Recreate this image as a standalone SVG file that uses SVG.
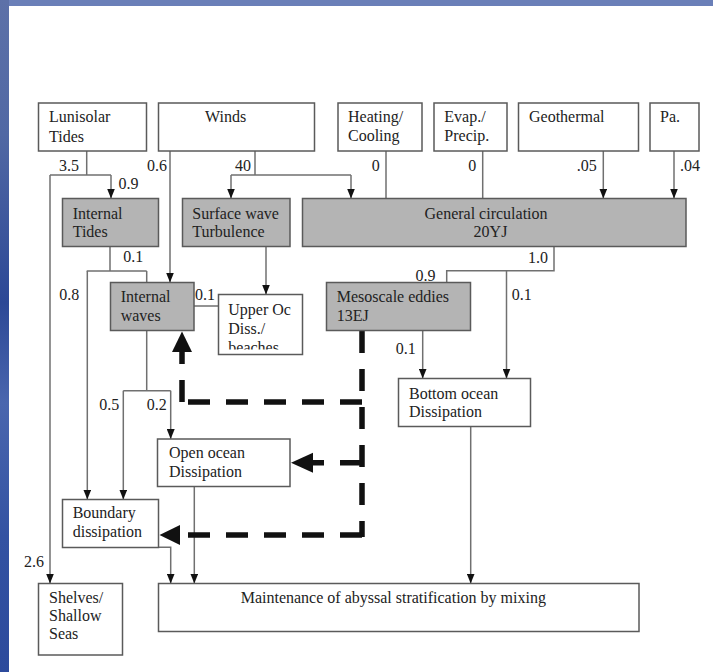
<svg xmlns="http://www.w3.org/2000/svg" width="713" height="672" viewBox="0 0 713 672">
<defs>
<linearGradient id="side" x1="0" y1="0" x2="0" y2="1">
<stop offset="0" stop-color="#5d71a8"/>
<stop offset="0.2" stop-color="#5168a4"/>
<stop offset="0.45" stop-color="#2c4896"/>
<stop offset="0.6" stop-color="#4a66ae"/>
<stop offset="0.8" stop-color="#3352a2"/>
<stop offset="1" stop-color="#2c4a9c"/>
</linearGradient>
<marker id="ah" viewBox="0 0 10 8" markerWidth="10" markerHeight="8" refX="10" refY="4" orient="auto" markerUnits="userSpaceOnUse">
<path d="M0,0 L10,4 L0,8 z" fill="#111"/>
</marker>
<clipPath id="uoclip"><rect x="218" y="294" width="86" height="55.5"/></clipPath>
<style>
.box{fill:#fff;stroke:#5a5a5a;stroke-width:1.5}
.gray{fill:#b4b4b4;stroke:#5a5a5a;stroke-width:1.5}
text{font-family:"Liberation Serif","Times New Roman",serif;font-size:16px;fill:#222}
.ln{fill:none;stroke:#707070;stroke-width:1.5}
.arr{marker-end:url(#ah)}
.dash{fill:none;stroke:#111;stroke-width:5.5;stroke-dasharray:22 16}
.head{fill:#111}
</style>
</defs>
<rect x="0" y="0" width="713" height="672" fill="#fff"/>
<rect x="0" y="0" width="713" height="6" fill="#6a7fb8"/>
<rect x="0" y="0" width="9" height="672" fill="url(#side)"/>

<g id="connectors">
<path class="ln" d="M86.7,151 V175 M50,175 H111 M86.7,271 H146.7 M110,246.5 V271 M146.7,271 V282.5 M255,151 V175 M231,175 H351 M386,151 V198.5 M482.7,151 V198.5 M194,306 H218.5 M554,246.5 V270.7 H446.7 V282.5 M146.7,330.5 V390.7 M123.3,390.7 H170.7"/>
<path class="ln arr" d="M111,175 V198.5"/>
<path class="ln arr" d="M50,175 V583.5"/>
<path class="ln arr" d="M170,151 V282.5"/>
<path class="ln arr" d="M231,175 V198.5"/>
<path class="ln arr" d="M351,175 V198.5"/>
<path class="ln arr" d="M603.3,151 V198.5"/>
<path class="ln arr" d="M674,151 V198.5"/>
<path class="ln arr" d="M87.3,271 V499.5"/>
<path class="ln arr" d="M266,246.5 V294.5"/>
<path class="ln arr" d="M506.5,270.7 V378.5"/>
<path class="ln arr" d="M422.7,330.5 V378.5"/>
<path class="ln arr" d="M170.7,390.7 V439"/>
<path class="ln arr" d="M123.3,390.7 V499.5"/>
<path class="ln arr" d="M470.7,426.5 V583.5"/>
<path class="ln arr" d="M194.3,486.5 V583.5"/>
<path class="ln arr" d="M158.5,547.3 H170.7 V583.5"/>
<path class="dash" d="M362,331 V537"/>
<path class="dash" d="M362,402 H182"/>
<path class="dash" d="M182,402 V350"/>
<path class="dash" d="M362,462.7 H305"/>
<path class="dash" d="M362,535 H180"/>
<polygon class="head" points="182,331.5 172,352 192,352"/>
<polygon class="head" points="291,462.7 313,452.7 313,472.7"/>
<polygon class="head" points="159.5,535 180,525 180,545"/>
<text x="59" y="170.5">3.5</text>
<text x="147" y="170.5">0.6</text>
<text x="235" y="170.5">40</text>
<text x="118.5" y="189">0.9</text>
<text x="371.7" y="170.5">0</text>
<text x="468.3" y="170.5">0</text>
<text x="576.7" y="170.5">.05</text>
<text x="680" y="170.5">.04</text>
<text x="123.3" y="262">0.1</text>
<text x="528" y="263">1.0</text>
<text x="415.5" y="281">0.9</text>
<text x="59.3" y="300">0.8</text>
<text x="195" y="300">0.1</text>
<text x="511.7" y="300">0.1</text>
<text x="395.7" y="354">0.1</text>
<text x="99.3" y="410">0.5</text>
<text x="146.7" y="410">0.2</text>
<text x="24" y="566.7">2.6</text>
</g>

<g id="lunisolar"><rect class="box" x="38.5" y="103" width="108" height="48"/><text x="49" y="122.3">Lunisolar</text><text x="49" y="141.5">Tides</text></g>
<g id="winds"><rect class="box" x="158.5" y="103" width="156" height="48"/><text x="205" y="122.3">Winds</text></g>
<g id="heating"><rect class="box" x="338" y="103" width="84" height="48"/><text x="348" y="122">Heating/</text><text x="348" y="140.5">Cooling</text></g>
<g id="evap"><rect class="box" x="434" y="103" width="73" height="48"/><text x="444.3" y="122">Evap./</text><text x="444.3" y="140.5">Precip.</text></g>
<g id="geothermal"><rect class="box" x="518.5" y="103" width="120" height="48"/><text x="529" y="122">Geothermal</text></g>
<g id="pa"><rect class="box" x="650" y="103" width="49" height="48"/><text x="660" y="122">Pa.</text></g>
<g id="internal-tides"><rect class="gray" x="62.5" y="198.5" width="96" height="48"/><text x="72.7" y="219">Internal</text><text x="72.7" y="237">Tides</text></g>
<g id="surface-wave"><rect class="gray" x="182.5" y="198.5" width="107.5" height="48"/><text x="192.3" y="218.5">Surface wave</text><text x="192.3" y="237">Turbulence</text></g>
<g id="general-circulation"><rect class="gray" x="302.5" y="198.5" width="383.5" height="48"/><text x="486" y="218.5" text-anchor="middle">General circulation</text><text x="490.5" y="237" text-anchor="middle">20YJ</text></g>
<g id="internal-waves"><rect class="gray" x="110.5" y="282.5" width="83.5" height="48"/><text x="120.7" y="302">Internal</text><text x="120.7" y="320.5">waves</text></g>
<g id="upper-ocean"><rect class="box" x="218.5" y="294.5" width="84" height="60"/><g clip-path="url(#uoclip)"><text x="228.3" y="315">Upper Oc</text><text x="228.3" y="333.5">Diss./</text><text x="228.3" y="352.5">beaches</text></g></g>
<g id="mesoscale"><rect class="gray" x="326.5" y="282.5" width="144" height="48"/><text x="336.7" y="302">Mesoscale eddies</text><text x="336.7" y="320.5">13EJ</text></g>
<g id="bottom-ocean"><rect class="box" x="398.5" y="378.5" width="132" height="48"/><text x="409" y="399">Bottom ocean</text><text x="409" y="417.3">Dissipation</text></g>
<g id="open-ocean"><rect class="box" x="157.5" y="439" width="132.5" height="47.5"/><text x="169" y="458.3">Open ocean</text><text x="169" y="476.7">Dissipation</text></g>
<g id="boundary"><rect class="box" x="62.5" y="499.5" width="96" height="48"/><text x="72.7" y="518.3">Boundary</text><text x="72.7" y="536.5">dissipation</text></g>
<g id="shelves"><rect class="box" x="38.5" y="583.5" width="84" height="71.5"/><text x="49" y="602.7">Shelves/</text><text x="49" y="620.8">Shallow</text><text x="49" y="639.3">Seas</text></g>
<g id="maintenance"><rect class="box" x="158.5" y="583.5" width="480.5" height="48"/><text x="240.7" y="602.7">Maintenance of abyssal stratification by mixing</text></g>
</svg>
